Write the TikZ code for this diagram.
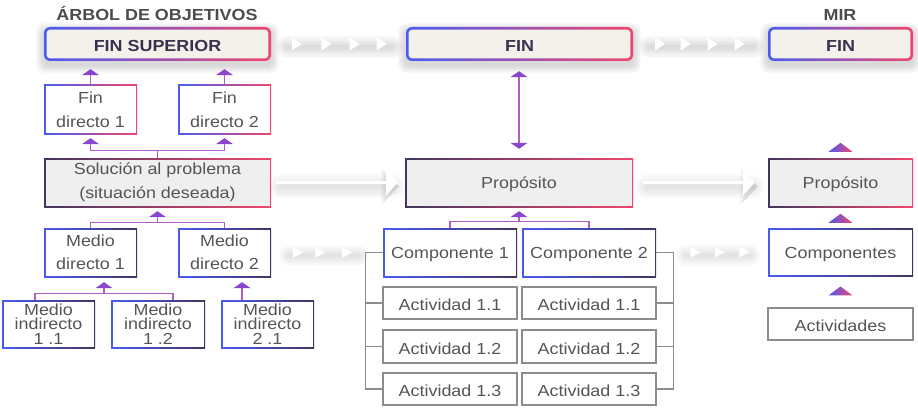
\documentclass[tikz,border=0pt]{standalone}
\usepackage{fontspec}
\setmainfont{Liberation Sans}[FakeStretch=1.12]
\usetikzlibrary{arrows.meta,backgrounds,calc}
\definecolor{cblue}{HTML}{4A5BF2}
\definecolor{cred}{HTML}{F0466E}
\definecolor{cdark}{HTML}{41365E}
\definecolor{cline}{HTML}{B45CC6}
\definecolor{chead}{HTML}{8A45CF}
\definecolor{ctext}{HTML}{555555}
\definecolor{ctitle}{HTML}{3A3050}
\definecolor{cgrey}{HTML}{8C8C8C}
\definecolor{ccream}{HTML}{F3F2EA}
\definecolor{cfill}{HTML}{EFEFEF}
\tikzset{
  base/.style={font=\fontsize{16}{23.5}\selectfont, text=ctext, align=center, inner sep=0pt,
    execute at begin node={\rule{0pt}{15.5pt}}},
  gbthin/.style n args={3}{path picture={
    \shade[left color=#1,right color=#2] (path picture bounding box.south west) rectangle (path picture bounding box.north east);
    \fill[#3] ([shift={(1.5pt,1.5pt)}]path picture bounding box.south west) rectangle ([shift={(-1.5pt,-1.5pt)}]path picture bounding box.north east);}},
  gbthick/.style n args={3}{rounded corners=6pt, path picture={
    \shade[left color=#1,right color=#2] (path picture bounding box.south west) rectangle (path picture bounding box.north east);
    \fill[#3, rounded corners=3.5pt] ([shift={(2.6pt,2.6pt)}]path picture bounding box.south west) rectangle ([shift={(-2.6pt,-2.6pt)}]path picture bounding box.north east);}},
  topbox/.style={base, gbthick={cblue}{cred}{ccream}, font=\fontsize{16}{20}\selectfont\bfseries, text=ctitle, minimum height=34pt},
  gbox/.style n args={3}{base, gbthin={#1}{#2}{#3}},
  smallstack/.style={font=\fontsize{16}{14.5}\selectfont, execute at begin node={}},
  actbox/.style={base, draw=cgrey, line width=1.1pt, fill=white},
  titletext/.style={base, font=\fontsize{16}{20}\selectfont\bfseries, text=ctext!90!black, execute at begin node={}},
  conn/.style={draw=cline, line width=1.4pt},
  tip/.style={-{Triangle[width=17pt,length=6pt,color=chead]}},
  bracket/.style={draw=cgrey, line width=1.1pt},
  bigarrow/.style={draw=white, line width=3pt, -{Triangle[width=26pt,length=12pt]}},
}
\begin{document}
\begin{tikzpicture}[x=1pt,y=-1pt]
\useasboundingbox (0,0) rectangle (918,409);

% titles
\node[titletext] (t1) at (157,13) {ÁRBOL DE OBJETIVOS};
\node[titletext] (t2) at (840,13) {MIR};

% top boxes
\node[topbox, minimum width=227pt] (fs) at (157.5,44) {FIN SUPERIOR};
\node[topbox, minimum width=227pt] (fin) at (519.5,44) {FIN};
\node[topbox, minimum width=145pt] (mfin) at (840.5,44) {FIN};

% left tree
\node[gbox={cblue}{cred}{white}, minimum width=93pt, minimum height=50pt] (fd1) at (90.5,110) {Fin\\directo 1};
\node[gbox={cblue}{cred}{white}, minimum width=93pt, minimum height=50pt] (fd2) at (224.5,110) {Fin\\directo 2};
\node[gbox={cdark}{cred}{cfill}, minimum width=227pt, minimum height=49pt] (sol) at (157.5,182.5) {Solución al problema\\(situación deseada)};
\node[gbox={cblue}{cdark}{white}, minimum width=93pt, minimum height=49pt] (md1) at (90.5,252.5) {Medio\\directo 1};
\node[gbox={cblue}{cdark}{white}, minimum width=93pt, minimum height=49pt] (md2) at (224.5,252.5) {Medio\\directo 2};
\node[gbox={cblue}{cdark}{white}, minimum width=93pt, minimum height=48pt, smallstack] (mi11) at (48.5,324) {Medio\\indirecto\\1 .1};
\node[gbox={cblue}{cdark}{white}, minimum width=94pt, minimum height=48pt, smallstack] (mi12) at (158,324) {Medio\\indirecto\\1 .2};
\node[gbox={cblue}{cdark}{white}, minimum width=93pt, minimum height=48pt, smallstack] (mi21) at (267.5,324) {Medio\\indirecto\\2 .1};

% middle column
\node[gbox={cdark}{cred}{cfill}, minimum width=228pt, minimum height=49pt] (prop) at (519,182.5) {Propósito};
\node[gbox={cblue}{cdark}{white}, minimum width=134pt, minimum height=49pt] (c1) at (450,252.5) {Componente 1};
\node[gbox={cblue}{cdark}{white}, minimum width=134pt, minimum height=49pt] (c2) at (589,252.5) {Componente 2};
\node[actbox, minimum width=134pt, minimum height=32pt] (a11) at (450,303) {Actividad 1.1};
\node[actbox, minimum width=134pt, minimum height=33pt] (a12) at (450,346.5) {Actividad 1.2};
\node[actbox, minimum width=134pt, minimum height=32pt] (a13) at (450,389) {Actividad 1.3};
\node[actbox, minimum width=134pt, minimum height=32pt] (a21) at (589,303) {Actividad 1.1};
\node[actbox, minimum width=134pt, minimum height=33pt] (a22) at (589,346.5) {Actividad 1.2};
\node[actbox, minimum width=134pt, minimum height=32pt] (a23) at (589,389) {Actividad 1.3};

% MIR column
\node[gbox={cdark}{cred}{cfill}, minimum width=145pt, minimum height=49pt] (mprop) at (840.5,182.5) {Propósito};
\node[gbox={cblue}{cdark}{white}, minimum width=145pt, minimum height=48pt] (mcomp) at (840.5,252) {Componentes};
\node[actbox, minimum width=145pt, minimum height=32pt] (mact) at (840.5,324) {Actividades};

% shadows and bands on background
\begin{scope}[on background layer]
  \foreach \n in {fs,fin,mfin}{
    \foreach \s in {1,...,8}{
      \fill[black,opacity=0.018,rounded corners=8pt] ([shift={(-\s,4+\s)}]\n.south west) rectangle ([shift={(\s,4-\s)}]\n.north east);
    }
  }
  % triangle bands
  \foreach \s in {1,...,7}{
    \draw[black,opacity=0.02,line width=\s*3.2pt,line cap=round] ([shift={(16,3)}]fs.east) -- ([shift={(-14,3)}]fin.west);
    \draw[black,opacity=0.02,line width=\s*3.2pt,line cap=round] ([shift={(16,3)}]fin.east) -- ([shift={(-14,3)}]mfin.west);
    \draw[black,opacity=0.014,line width=\s*3pt,line cap=round] ([shift={(18,3)}]md2.east) -- ([shift={(-24,3)}]c1.west);
    \draw[black,opacity=0.014,line width=\s*3pt,line cap=round] ([shift={(30,3)}]c2.east) -- ([shift={(-18,3)}]mcomp.west);
    \draw[black,opacity=0.014,line width=\s*3.5pt,line cap=round] ([shift={(10,4)}]sol.east) -- ([shift={(-12,4)}]prop.west);
    \draw[black,opacity=0.014,line width=\s*3.5pt,line cap=round] ([shift={(14,4)}]prop.east) -- ([shift={(-16,4)}]mprop.west);
  }
  \foreach \s in {1,...,6}{
    \fill[black,opacity=0.02] ([shift={(-18-\s,4)}]prop.west) ++(0,-13-\s) -- ++(12+\s,13+\s) -- ++(-12-\s,13+\s) -- cycle;
    \fill[black,opacity=0.02] ([shift={(-22-\s,4)}]mprop.west) ++(0,-13-\s) -- ++(12+\s,13+\s) -- ++(-12-\s,13+\s) -- cycle;
  }
\end{scope}

% white triangles in bands
\foreach \p in {0.19,0.41,0.62,0.82}{
  \fill[white] ($(fs.east)!\p!(fin.west)$) ++(-5,-6.5) -- ++(10,6.5) -- ++(-10,6.5) -- cycle;
}
\foreach \p in {0.2,0.39,0.59,0.79}{
  \fill[white] ($(fin.east)!\p!(mfin.west)$) ++(-5,-6.5) -- ++(10,6.5) -- ++(-10,6.5) -- cycle;
}
\foreach \p in {0.24,0.44,0.68}{
  \fill[white] ($(md2.east)!\p!(c1.west)$) ++(-5,-5.5) -- ++(10,5.5) -- ++(-10,5.5) -- cycle;
}
\foreach \p in {0.35,0.57,0.79}{
  \fill[white] ($(c2.east)!\p!(mcomp.west)$) ++(-5,-5.5) -- ++(10,5.5) -- ++(-10,5.5) -- cycle;
}

% big white arrows
\draw[bigarrow, shorten <=5pt, shorten >=7pt] (sol.east) -- (prop.west);
\draw[bigarrow, shorten <=10pt, shorten >=13pt] (prop.east) -- (mprop.west);

% left tree connectors
\draw[conn, tip, shorten >=8pt] (fd1.north) -- (fd1.north |- fs.south);
\draw[conn, tip, shorten >=8pt] (fd2.north) -- (fd2.north |- fs.south);
\coordinate (j1) at ($(sol.north)+(0,-7)$);
\draw[conn] (sol.north) -- (j1);
\draw[conn, tip, shorten >=3pt] (j1) -| (fd1.south);
\draw[conn, tip, shorten >=3pt] (j1) -| (fd2.south);
\coordinate (j2) at ($(sol.south)+(0,15)$);
\draw[conn] (md1.north) |- (j2) -| (md2.north);
\draw[conn, tip, shorten >=4pt] (j2) -- (sol.south);
\coordinate (j3) at ($(md1.south)+(13.5,16)$);
\draw[conn] ([xshift=-13.5pt]mi11.north) |- (j3) -| ([xshift=15pt]mi12.north);
\draw[conn, tip, shorten >=5pt] (j3) -- (j3 |- md1.south);
\draw[conn, tip, shorten >=5pt] ([xshift=-25.5pt]mi21.north) -- ([xshift=-25.5pt]mi21.north |- md2.south);

% middle connectors
\draw[conn, {Triangle[width=17pt,length=6pt,color=chead]}-{Triangle[width=17pt,length=6pt,color=chead]}, shorten <=10pt, shorten >=9pt] (fin.south -| prop.north) -- (prop.north);
\coordinate (j4) at ($(prop.south)+(0,14)$);
\draw[conn] (c1.north) |- (j4) -| (c2.north);
\draw[conn, tip, shorten >=4pt] (j4) -- (prop.south);

% brackets
\draw[bracket] (c1.west) -- ++(-17,0) |- (a13.west);
\draw[bracket] (a11.west) -- ++(-17,0);
\draw[bracket] (a12.west) -- ++(-17,0);
\draw[bracket] (c2.east) -- ++(17,0) |- (a23.east);
\draw[bracket] (a21.east) -- ++(17,0);
\draw[bracket] (a22.east) -- ++(17,0);

% MIR arrowheads
\foreach \n/\d in {mprop/10.5, mcomp/9.5, mact/16.5}{
  \shade[left color=cblue, right color=cred] ($(\n.north)+(0,-\d)$) ++(-12,4.5) -- ++(12,-9) -- ++(12,9) -- cycle;
}
\end{tikzpicture}
\end{document}
